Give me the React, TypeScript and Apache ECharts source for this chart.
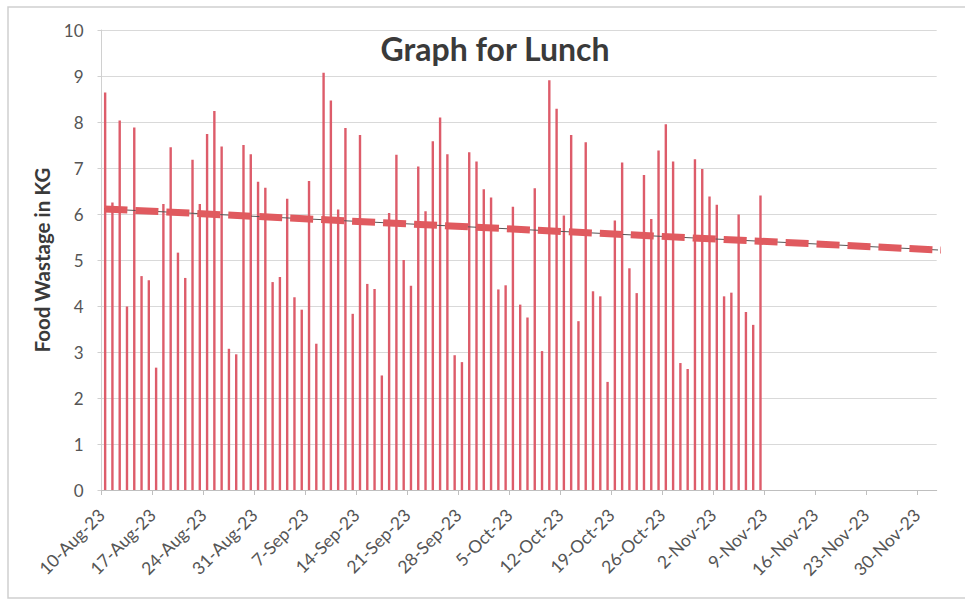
import React, { useEffect, useRef } from "react";
import * as echarts from "echarts";

// Daily lunch food wastage (kg), one value per day starting 10-Aug-23 (day 0) to 8-Nov-23 (day 90)
const wastage: number[] = [
  8.64, 6.25, 8.03, 3.99, 7.88, 4.65, 4.56, 2.66, 6.22, 7.45,
  5.16, 4.61, 7.18, 6.22, 7.74, 8.24, 7.47, 3.07, 2.95, 7.5,
  7.3, 6.7, 6.57, 4.52, 4.63, 6.33, 4.19, 3.92, 6.72, 3.18,
  9.07, 8.47, 6.1, 7.87, 3.83, 7.72, 4.48, 4.37, 2.49, 6.02,
  7.29, 5.0, 4.44, 7.03, 6.06, 7.58, 8.1, 7.3, 2.93, 2.78,
  7.34, 7.14, 6.54, 6.36, 4.36, 4.45, 6.16, 4.03, 3.75, 6.56,
  3.02, 8.91, 8.29, 5.97, 7.72, 3.67, 7.56, 4.32, 4.21, 2.35,
  5.86, 7.12, 4.82, 4.28, 6.85, 5.89, 7.38, 7.95, 7.14, 2.76,
  2.63, 7.19, 6.98, 6.38, 6.2, 4.21, 4.29, 5.99, 3.87, 3.59,
  6.4,
];

// Weekly tick labels (day offsets 0, 7, 14, ...)
const tickLabels: string[] = [
  "10-Aug-23", "17-Aug-23", "24-Aug-23", "31-Aug-23", "7-Sep-23", "14-Sep-23",
  "21-Sep-23", "28-Sep-23", "5-Oct-23", "12-Oct-23", "19-Oct-23", "26-Oct-23",
  "2-Nov-23", "9-Nov-23", "16-Nov-23", "23-Nov-23", "30-Nov-23",
];
const tickDays: number[] = tickLabels.map((_, i) => i * 7);

// Linear trendline endpoints (day offset, kg)
const trendDays: number[] = [0.4, 117.2];
const trendValues: number[] = [6.11, 5.2];

const yTicks: number[] = [0, 1, 2, 3, 4, 5, 6, 7, 8, 9, 10];

const FONT = "Lato, 'Open Sans', sans-serif";

export default function App() {
  const ref = useRef<HTMLDivElement>(null);

  useEffect(() => {
    if (!ref.current) return;
    const chart = echarts.init(ref.current, undefined, { renderer: "svg" });

    const barData = wastage.map((v, i) => [i + 0.5, v]);
    const trendData = trendDays.map((d, i) => [d, trendValues[i]]);

    chart.setOption({
      animation: false,
      backgroundColor: "#ffffff",
      textStyle: { fontFamily: FONT },
      title: {
        text: "Graph for Lunch",
        left: 490,
        top: 27,
        textAlign: "center",
        textStyle: {
          fontFamily: FONT,
          fontSize: 32,
          fontWeight: "bold",
          color: "#3a3a3a",
        },
      },
      graphic: [
        {
          type: "rect",
          shape: { x: 8, y: 7, width: 962, height: 591 },
          style: { fill: "none", stroke: "#cfcfcf", lineWidth: 1.5 },
          silent: true,
          z: -10,
        },
      ],
      grid: {
        left: 101.5,
        top: 30,
        width: 835.2,
        height: 460,
        containLabel: false,
      },
      xAxis: {
        type: "value",
        min: 0,
        max: 114.7,
        axisLine: { show: true, lineStyle: { color: "#bfbfbf", width: 1 } },
        axisTick: {
          show: true,
          length: 5,
          customValues: tickDays,
          lineStyle: { color: "#bfbfbf" },
        },
        splitLine: { show: false },
        axisLabel: {
          customValues: tickDays,
          rotate: 45,
          margin: 22,
          fontSize: 17.5,
          fontFamily: FONT,
          color: "#555555",
          formatter: (val: number) => {
            const idx = Math.round(val / 7);
            return tickLabels[idx] ?? "";
          },
        },
      },
      yAxis: {
        type: "value",
        min: yTicks[0],
        max: yTicks[yTicks.length - 1],
        interval: 1,
        name: "Food Wastage in KG",
        nameLocation: "middle",
        nameRotate: 90,
        nameGap: 46,
        nameTextStyle: {
          fontFamily: FONT,
          fontSize: 20.5,
          fontWeight: "bold",
          color: "#3a3a3a",
        },
        axisLine: { show: true, lineStyle: { color: "#d0d0d0" } },
        axisTick: { show: true, length: 4, lineStyle: { color: "#d0d0d0" } },
        splitLine: { show: true, lineStyle: { color: "#d9d9d9", width: 1 } },
        axisLabel: {
          margin: 18,
          fontSize: 17,
          fontFamily: FONT,
          color: "#555555",
        },
      },
      series: [
        {
          type: "bar",
          name: "Lunch",
          data: barData,
          barWidth: 2.4,
          itemStyle: { color: "#dd5c6a" },
          z: 2,
        },
        {
          type: "line",
          name: "Trend thin",
          data: trendData,
          symbol: "none",
          clip: true,
          lineStyle: { color: "#555555", width: 1 },
          z: 3,
        },
        {
          type: "line",
          name: "Trend",
          data: trendData,
          symbol: "none",
          clip: false,
          lineStyle: {
            color: "#e05a5f",
            width: 7,
            type: [23, 8],
            cap: "butt",
          },
          z: 4,
        },
      ],
    });

    return () => {
      chart.dispose();
    };
  }, []);

  return (
    <div
      ref={ref}
      style={{ position: "absolute", left: 0, top: 0, width: 965, height: 600 }}
    />
  );
}
